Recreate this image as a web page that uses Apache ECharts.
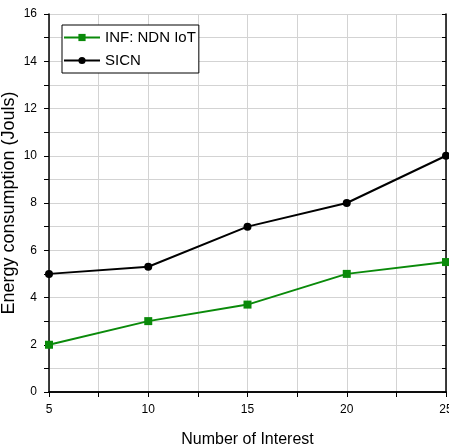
<!DOCTYPE html>
<html><head><meta charset="utf-8">
<script src="https://cdn.jsdelivr.net/npm/echarts@6/dist/echarts.min.js"></script>
<style>html,body{margin:0;padding:0;background:#fff}#c{width:449px;height:448px}</style>
</head><body><div id="c"></div>
<script>
const interests = [5, 10, 15, 20, 25];
const infNdnIot = [2, 3, 3.7, 5, 5.5];
const sicn = [5, 5.3, 7, 8, 10];
const seriesNames = ['INF: NDN IoT', 'SICN'];

const chart = echarts.init(document.getElementById('c'), null, {renderer: 'canvas'});
const font = 'Liberation Sans, Arial, sans-serif';
const axisLine = {show: true, lineStyle: {color: '#000', width: 1.5}};
chart.setOption({
  animation: false,
  backgroundColor: '#fff',
  grid: {left: 49, right: 3, top: 14, bottom: 56, containLabel: false, outerBoundsMode: 'none'},
  legend: {
    orient: 'vertical', left: 62, top: 25, padding: [5, 3, 5, 1],
    backgroundColor: '#fff', borderColor: '#000', borderWidth: 1,
    itemWidth: 36, itemHeight: 9, itemGap: 8,
    textStyle: {fontFamily: font, fontSize: 15, color: '#000'},
    data: seriesNames
  },
  xAxis: [{
    type: 'value', min: 5, max: 25, interval: 2.5,
    name: 'Number of Interest', nameLocation: 'middle', nameGap: 40, nameMoveOverlap: false,
    nameTextStyle: {fontFamily: font, fontSize: 16, color: '#000'},
    axisLine: axisLine,
    axisTick: {show: true, length: 5, lineStyle: {color: '#000'}},
    axisLabel: {fontFamily: font, fontSize: 12, color: '#000', margin: 12,
      formatter: v => (v % 5 === 0 ? String(v) : '')},
    splitLine: {show: true, lineStyle: {color: '#d3d3d3', width: 1}}
  }, {
    type: 'value', min: 5, max: 25, interval: 2.5, position: 'top',
    axisLine: axisLine,
    axisTick: {show: true, inside: true, length: 4, lineStyle: {color: '#000'}},
    axisLabel: {show: false}, splitLine: {show: false}
  }],
  yAxis: [{
    type: 'value', min: 0, max: 16, interval: 1,
    name: 'Energy consumption (Jouls)', nameLocation: 'middle', nameGap: 31, nameMoveOverlap: false,
    nameTextStyle: {fontFamily: font, fontSize: 18, color: '#000'},
    axisLine: axisLine,
    axisTick: {show: true, length: 5, lineStyle: {color: '#000'}},
    axisLabel: {fontFamily: font, fontSize: 12, color: '#000', margin: 12,
      formatter: v => (v % 2 === 0 ? String(v) : '')},
    splitLine: {show: true, lineStyle: {color: '#d3d3d3', width: 1}}
  }, {
    type: 'value', min: 0, max: 16, interval: 1, position: 'right',
    axisLine: axisLine,
    axisTick: {show: true, inside: true, length: 4, lineStyle: {color: '#000'}},
    axisLabel: {show: false}, splitLine: {show: false}
  }],
  series: [{
    name: seriesNames[0], type: 'line',
    data: interests.map((x, i) => [x, infNdnIot[i]]),
    symbol: 'rect', symbolSize: 8,
    itemStyle: {color: '#0a8a0a'}, lineStyle: {color: '#0a8a0a', width: 2}
  }, {
    name: seriesNames[1], type: 'line',
    data: interests.map((x, i) => [x, sicn[i]]),
    symbol: 'circle', symbolSize: 8,
    itemStyle: {color: '#000'}, lineStyle: {color: '#000', width: 2}
  }]
});
</script></body></html>
